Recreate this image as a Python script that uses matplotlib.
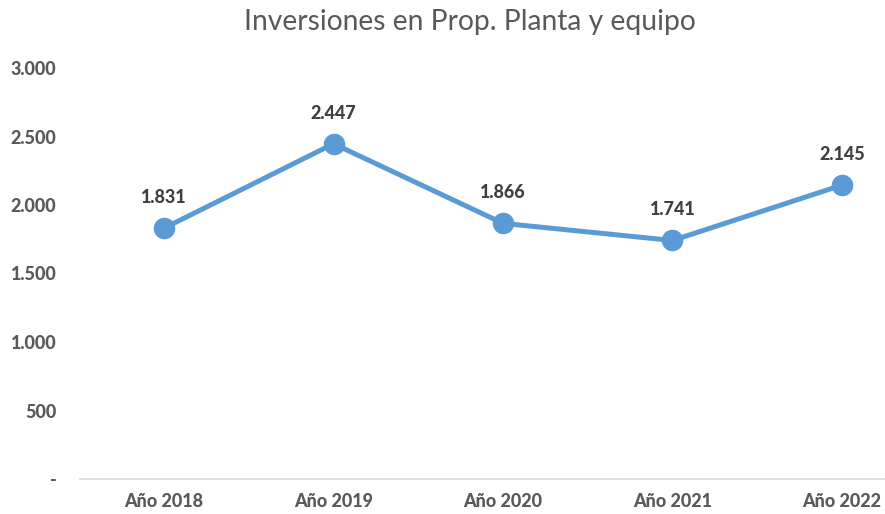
import matplotlib.pyplot as plt
from matplotlib.ticker import FuncFormatter

categorias = ["Año 2018", "Año 2019", "Año 2020", "Año 2021", "Año 2022"]
inversiones = [1831, 2447, 1866, 1741, 2145]
y_ticks = [0, 500, 1000, 1500, 2000, 2500, 3000]

plt.rcParams['font.family'] = ['Lato', 'DejaVu Sans']

W, H = 885, 514
fig = plt.figure(figsize=(W / 100, H / 100), dpi=100)
ax = fig.add_axes([80 / W, 35 / H, 805 / W, 411 / H])

color_linea = '#5B9BD5'
x = list(range(len(categorias)))
ax.plot(x, inversiones, color=color_linea, linewidth=3.6, marker='o',
        markersize=14.5, clip_on=False, zorder=3)

# etiquetas de datos
for xi, v in zip(x, inversiones):
    ax.annotate(f"{v:,}".replace(",", "."), (xi, v), xytext=(0, 16),
                textcoords='offset points', ha='center', va='bottom',
                fontsize=13, fontweight='black', color='#404040')

ax.set_xlim(-0.496, 4.254)
ax.set_ylim(0, 3000)
ax.set_xticks(x)
ax.set_xticklabels(categorias)
ax.set_yticks(y_ticks)

def fmt_miles(v, pos):
    if v == 0:
        return "-"
    return f"{int(v):,}".replace(",", ".")

ax.yaxis.set_major_formatter(FuncFormatter(fmt_miles))

for s in ['top', 'right', 'left']:
    ax.spines[s].set_visible(False)
ax.spines['bottom'].set_color('#D9D9D9')
ax.spines['bottom'].set_linewidth(1.2)

ax.tick_params(axis='both', length=0, labelsize=13, labelcolor='#595959')
ax.tick_params(axis='y', pad=17)
ax.tick_params(axis='x', pad=10)
for lab in ax.get_xticklabels() + ax.get_yticklabels():
    lab.set_fontweight('black')

fig.text(470 / W, 1 - 22 / H, "Inversiones en Prop. Planta y equipo",
         ha='center', va='center', fontsize=20.3, color='#595959')

fig.savefig("out.png", dpi=100)
